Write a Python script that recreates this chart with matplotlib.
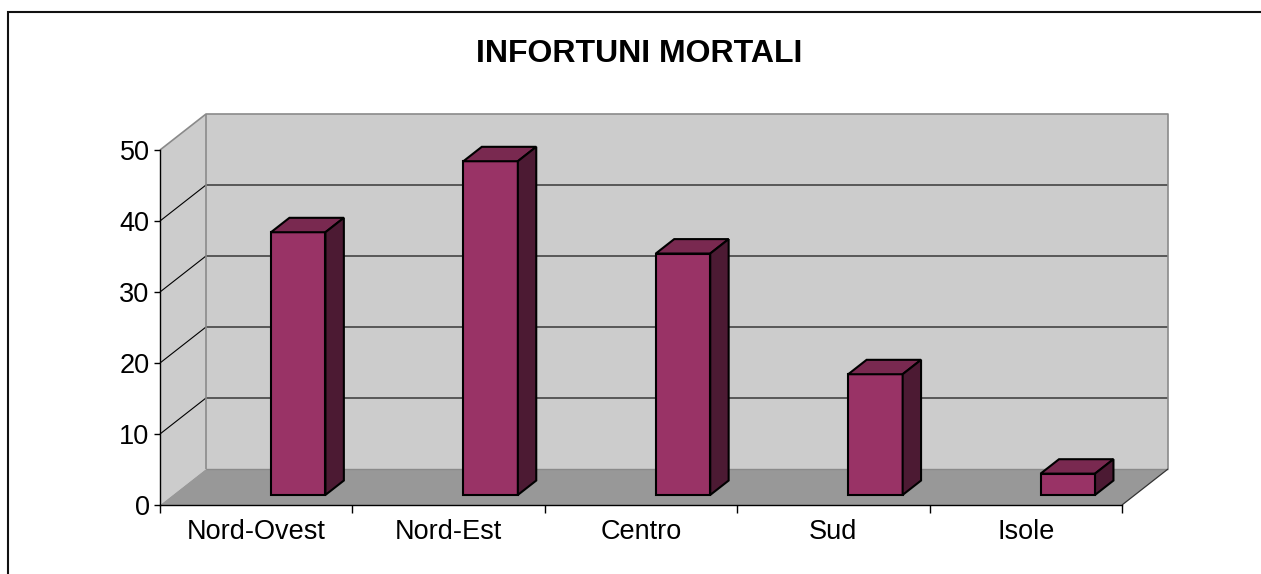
import matplotlib
matplotlib.use("Agg")
import matplotlib.pyplot as plt
from matplotlib.patches import Polygon, Rectangle
from matplotlib.lines import Line2D

categories = ["Nord-Ovest", "Nord-Est", "Centro", "Sud", "Isole"]
values = [37, 47, 34, 17, 3]
yticks = [0, 10, 20, 30, 40, 50]
title = "INFORTUNI MORTALI"

plt.rcParams['font.family'] = ['Liberation Sans', 'DejaVu Sans']

W, H = 1261, 574
fig = plt.figure(figsize=(W / 100, H / 100), dpi=100)
fig.patch.set_facecolor('white')
ax = fig.add_axes([160 / W, (H - 505) / H, 962 / W, 355 / H])
ax.patch.set_visible(False)
n = len(categories)
ymax = yticks[-1]
ax.set_xlim(0, n)
ax.set_ylim(0, ymax)

# oblique depth vector expressed in data units
DX = 46 / 962 * n
DY = 36 / 355 * ymax


def P(x, y, d):
    return (x + d * DX, y + d * DY)


def poly(pts, fc, ec='none', lw=0, z=1):
    ax.add_patch(Polygon(pts, closed=True, facecolor=fc, edgecolor=ec,
                         linewidth=lw, zorder=z, clip_on=False,
                         joinstyle='miter'))


def line(pts, color, lw, z=1.5):
    xs = [p[0] for p in pts]
    ys = [p[1] for p in pts]
    ax.add_line(Line2D(xs, ys, color=color, linewidth=lw, zorder=z,
                       clip_on=False, solid_capstyle='butt'))


wall = '#cccccc'
floor = '#989898'
edge = '#8a8a8a'

# walls and floor
poly([P(0, 0, 1), P(n, 0, 1), P(n, ymax, 1), P(0, ymax, 1)], wall)
poly([P(0, 0, 0), P(0, 0, 1), P(0, ymax, 1), P(0, ymax, 0)], wall)
poly([P(0, 0, 0), P(n, 0, 0), P(n, 0, 1), P(0, 0, 1)], floor)

# gridlines
for v in yticks[1:-1]:
    line([P(0, v, 0), P(0, v, 1), P(n, v, 1)], 'black', 0.8)

# wall outlines
line([P(0, ymax, 0), P(0, ymax, 1), P(n, ymax, 1), P(n, 0, 1)], edge, 1.2)
line([P(0, 0, 1), P(0, ymax, 1)], edge, 1.2)
line([P(0, 0, 1), P(n, 0, 1)], edge, 1.0)
line([P(n, 0, 0), P(n, 0, 1)], '#333333', 0.9)

# bars
d0, d1 = 0.28, 0.68
off, bw = 0.51, 0.283
for i, v in enumerate(values):
    x0 = i + off
    x1 = x0 + bw
    poly([P(x0, 0, d0), P(x1, 0, d0), P(x1, v, d0), P(x0, v, d0)],
         '#993366', 'black', 1.5, z=3)
    poly([P(x0, v, d0), P(x1, v, d0), P(x1, v, d1), P(x0, v, d1)],
         '#792950', 'black', 1.5, z=3)
    poly([P(x1, 0, d0), P(x1, 0, d1), P(x1, v, d1), P(x1, v, d0)],
         '#4c1a33', 'black', 1.5, z=3)

# axes
for s in ['top', 'right']:
    ax.spines[s].set_visible(False)
for s in ['left', 'bottom']:
    ax.spines[s].set_color('black')
    ax.spines[s].set_linewidth(1.0)
    ax.spines[s].set_zorder(2.5)

ax.set_yticks(yticks)
ax.set_yticklabels([str(t) for t in yticks])
ax.tick_params(axis='y', direction='out', length=4.5, width=1.0,
               labelsize=19.5, pad=3)
ax.set_xticks(range(n + 1))
ax.set_xticklabels([''] * (n + 1))
ax.set_xticks([i + 0.5 for i in range(n)], minor=True)
ax.set_xticklabels(categories, minor=True)
ax.tick_params(axis='x', which='major', direction='out', length=5.5,
               width=1.0)
ax.tick_params(axis='x', which='minor', length=0, labelsize=19.5, pad=10)

fig.text(639 / W, 1 - 54 / H, title, ha='center', va='center',
         fontsize=23, fontweight='bold')

# outer chart border
fig.add_artist(Rectangle((8 / W, -0.05), 1.2, 1 - 12 / H + 0.05,
                         transform=fig.transFigure, fill=False,
                         edgecolor='#111111', linewidth=1.5))

fig.savefig('out.png', dpi=100)
